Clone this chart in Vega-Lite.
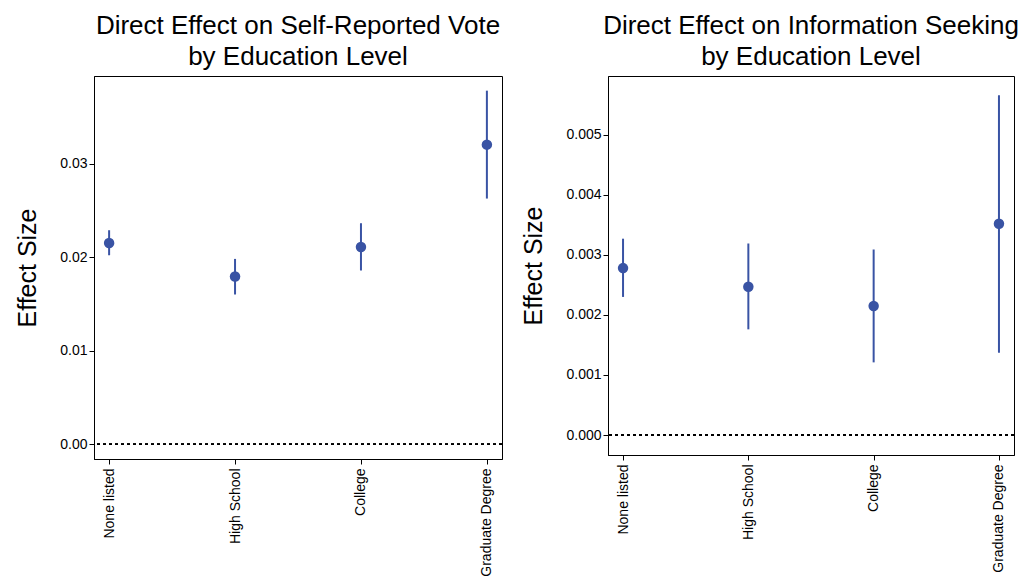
{
  "$schema": "https://vega.github.io/schema/vega-lite/v6.json",
  "padding": {"left": 15, "top": 12, "right": 5, "bottom": 0},
  "spacing": 17,
  "config": {
    "font": "Liberation Sans",
    "view": {"stroke": "black", "strokeWidth": 1},
    "axis": {"domainColor": "black", "tickColor": "black", "labelColor": "black", "titleColor": "black", "grid": false, "labelFont": "Liberation Sans", "titleFont": "Liberation Sans", "labelFontSize": 14, "tickSize": 5, "titleFontWeight": "normal"},
    "title": {"font": "Liberation Sans", "fontSize": 26, "fontWeight": "normal", "color": "black", "lineHeight": 31, "frame": "group", "anchor": "middle", "offset": 6}
  },
  "datasets": {
    "vote": [
      {"level": "None listed", "effect": 0.02153, "lower": 0.02021, "upper": 0.02289},
      {"level": "High School", "effect": 0.01793, "lower": 0.01601, "upper": 0.01982},
      {"level": "College", "effect": 0.0211, "lower": 0.01858, "upper": 0.02364},
      {"level": "Graduate Degree", "effect": 0.03205, "lower": 0.02628, "upper": 0.03783}
    ],
    "info": [
      {"level": "None listed", "effect": 0.00278, "lower": 0.0023, "upper": 0.00327},
      {"level": "High School", "effect": 0.00247, "lower": 0.00176, "upper": 0.00319},
      {"level": "College", "effect": 0.00215, "lower": 0.00121, "upper": 0.00309},
      {"level": "Graduate Degree", "effect": 0.00352, "lower": 0.00137, "upper": 0.00566}
    ]
  },
  "hconcat": [
    {
      "width": 408,
      "height": 383,
      "title": {"text": ["Direct Effect on Self-Reported Vote", "by Education Level"]},
      "data": {"name": "vote"},
      "layer": [
        {
          "mark": {"type": "rule", "strokeDash": [3, 3], "color": "black", "strokeWidth": 1.3},
          "encoding": {"y": {"datum": 0, "type": "quantitative", "scale": {"domain": [-0.0016, 0.0394], "nice": false, "zero": false}}}
        },
        {
          "mark": {"type": "rule", "strokeWidth": 2, "color": "#3953a4"},
          "encoding": {
            "x": {"field": "level", "type": "nominal", "sort": ["None listed", "High School", "College", "Graduate Degree"], "scale": {"type": "point", "padding": 0.12}, "axis": {"title": null, "labelAngle": -90, "labelPadding": 4}},
            "y": {"field": "lower", "type": "quantitative", "scale": {"domain": [-0.0016, 0.0394], "nice": false, "zero": false}, "axis": {"title": "Effect Size", "titleFontSize": 25, "values": [0, 0.01, 0.02, 0.03], "format": ".2f", "titlePadding": 19}},
            "y2": {"field": "upper"}
          }
        },
        {
          "mark": {"type": "circle", "size": 110, "opacity": 1, "color": "#3953a4"},
          "encoding": {
            "x": {"field": "level", "type": "nominal", "sort": ["None listed", "High School", "College", "Graduate Degree"]},
            "y": {"field": "effect", "type": "quantitative"}
          }
        }
      ]
    },
    {
      "width": 406,
      "height": 379,
      "title": {"text": ["Direct Effect on Information Seeking", "by Education Level"]},
      "data": {"name": "info"},
      "layer": [
        {
          "mark": {"type": "rule", "strokeDash": [3, 3], "color": "black", "strokeWidth": 1.3},
          "encoding": {"y": {"datum": 0, "type": "quantitative", "scale": {"domain": [-0.000333, 0.00598], "nice": false, "zero": false}}}
        },
        {
          "mark": {"type": "rule", "strokeWidth": 2, "color": "#3953a4"},
          "encoding": {
            "x": {"field": "level", "type": "nominal", "sort": ["None listed", "High School", "College", "Graduate Degree"], "scale": {"type": "point", "padding": 0.12}, "axis": {"title": null, "labelAngle": -90, "labelPadding": 4}},
            "y": {"field": "lower", "type": "quantitative", "scale": {"domain": [-0.000333, 0.00598], "nice": false, "zero": false}, "axis": {"title": "Effect Size", "titleFontSize": 25, "values": [0, 0.001, 0.002, 0.003, 0.004, 0.005], "format": ".3f", "titlePadding": 19}},
            "y2": {"field": "upper"}
          }
        },
        {
          "mark": {"type": "circle", "size": 110, "opacity": 1, "color": "#3953a4"},
          "encoding": {
            "x": {"field": "level", "type": "nominal", "sort": ["None listed", "High School", "College", "Graduate Degree"]},
            "y": {"field": "effect", "type": "quantitative"}
          }
        }
      ]
    }
  ]
}
